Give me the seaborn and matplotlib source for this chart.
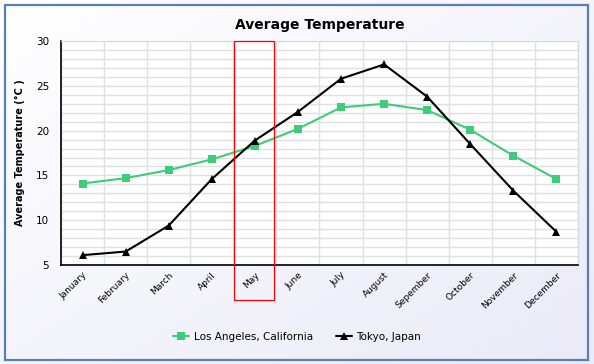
import numpy as np
import pandas as pd
import seaborn as sns
from matplotlib import pyplot as plt
from matplotlib.patches import Rectangle
from matplotlib.lines import Line2D
import matplotlib.transforms as mtransforms

months = ["January", "February", "March", "April", "May", "June", "July",
          "August", "Sepember", "October", "November", "December"]
la_temps = [14.1, 14.7, 15.6, 16.8, 18.3, 20.2, 22.6, 23.0, 22.3, 20.1, 17.2, 14.6]
tokyo_temps = [6.1, 6.5, 9.4, 14.6, 18.9, 22.1, 25.8, 27.4, 23.8, 18.5, 13.3, 8.7]
series_names = ["Los Angeles, California", "Tokyo, Japan"]
highlight_month = "May"

df = pd.DataFrame({
    "idx": list(range(len(months))) * 2,
    "temp": la_temps + tokyo_temps,
    "city": [series_names[0]] * len(months) + [series_names[1]] * len(months),
})

sns.set_style("white")
plt.rcParams['font.family'] = ['DejaVu Sans']
plt.rcParams['text.color'] = 'black'
plt.rcParams['axes.labelcolor'] = 'black'
plt.rcParams['xtick.color'] = 'black'
plt.rcParams['ytick.color'] = 'black'

fig = plt.figure(figsize=(5.94, 3.64), dpi=100)

# background gradient
bg = fig.add_axes([0, 0, 1, 1], zorder=-10)
gx, gy = np.meshgrid(np.linspace(0, 1, 200), np.linspace(0, 1, 200))
g = (gx + gy) / 2
c0 = np.array([1.0, 1.0, 1.0])
c1 = np.array([0.92, 0.92, 0.975])
img = c0[None, None, :] * (1 - g[..., None]) + c1[None, None, :] * g[..., None]
bg.imshow(img, extent=[0, 1, 0, 1], aspect="auto", origin="upper")
bg.add_patch(Rectangle((0.008, 0.012), 0.982, 0.975, fill=False,
                       edgecolor="#5b7fb5", linewidth=1.6, transform=bg.transAxes))
bg.set_axis_off()

ax = fig.add_axes([0.1027, 0.272, 0.8703, 0.615])
ax.set_facecolor("white")

palette = {series_names[0]: "#3ecb7a", series_names[1]: "black"}
markers = {series_names[0]: "s", series_names[1]: "^"}
sns.lineplot(data=df, x="idx", y="temp", hue="city", style="city",
             palette=palette, markers=markers, dashes=False, markersize=6,
             markeredgewidth=0, linewidth=1.5, ax=ax, legend=False, sort=False)

ax.set_xlim(-0.5, len(months) - 0.5)
ax.set_ylim(5, 30)
ax.set_yticks(range(5, 31, 5))
ax.set_yticks(range(5, 31), minor=True)
ax.grid(True, which="both", axis="y", color="#e0e0e0", linewidth=1)
ax.set_xticks(np.arange(-0.5, len(months), 1))
ax.set_xticklabels([])
ax.grid(True, which="major", axis="x", color="#e0e0e0", linewidth=1)
ax.set_xticks(range(len(months)), minor=True)
ax.set_xticklabels(months, minor=True, rotation=45, ha="right",
                   rotation_mode="anchor", fontsize=6.5)
ax.tick_params(axis="x", which="minor", length=0, pad=4)
ax.tick_params(axis="x", which="major", length=5, direction="out", color="black", width=1)
ax.tick_params(axis="y", which="major", length=5, direction="out", color="black",
               width=1, labelsize=7.5)
ax.tick_params(axis="y", which="minor", length=0)
ax.set_axisbelow(True)

for s in ["left", "bottom"]:
    ax.spines[s].set_color("black")
    ax.spines[s].set_linewidth(1.2)
for s in ["top", "right"]:
    ax.spines[s].set_color("#d8d8d8")

ax.set_xlabel("")
ax.set_ylabel("Average Temperature (°C )", fontsize=7, fontweight="bold", labelpad=8)
ax.set_title("Average Temperature", fontsize=10, fontweight="bold", pad=9)

# highlight box
hi = months.index(highlight_month)
trans = mtransforms.blended_transform_factory(ax.transData, ax.transAxes)
ax.add_patch(Rectangle((hi - 0.48, -0.156), 0.93, 1.156, fill=False,
                       edgecolor="red", linewidth=0.9, transform=trans,
                       clip_on=False, zorder=5))

handles = [Line2D([], [], color=palette[n], marker=markers[n], markersize=6,
                  markeredgewidth=0, linewidth=1.5) for n in series_names]
fig.legend(handles, series_names, loc="center", bbox_to_anchor=(0.5, 0.074),
           ncol=2, frameon=False, fontsize=7.5, handlelength=1.6,
           handletextpad=0.4, columnspacing=2.2)

fig.savefig("out.png", dpi=100)
